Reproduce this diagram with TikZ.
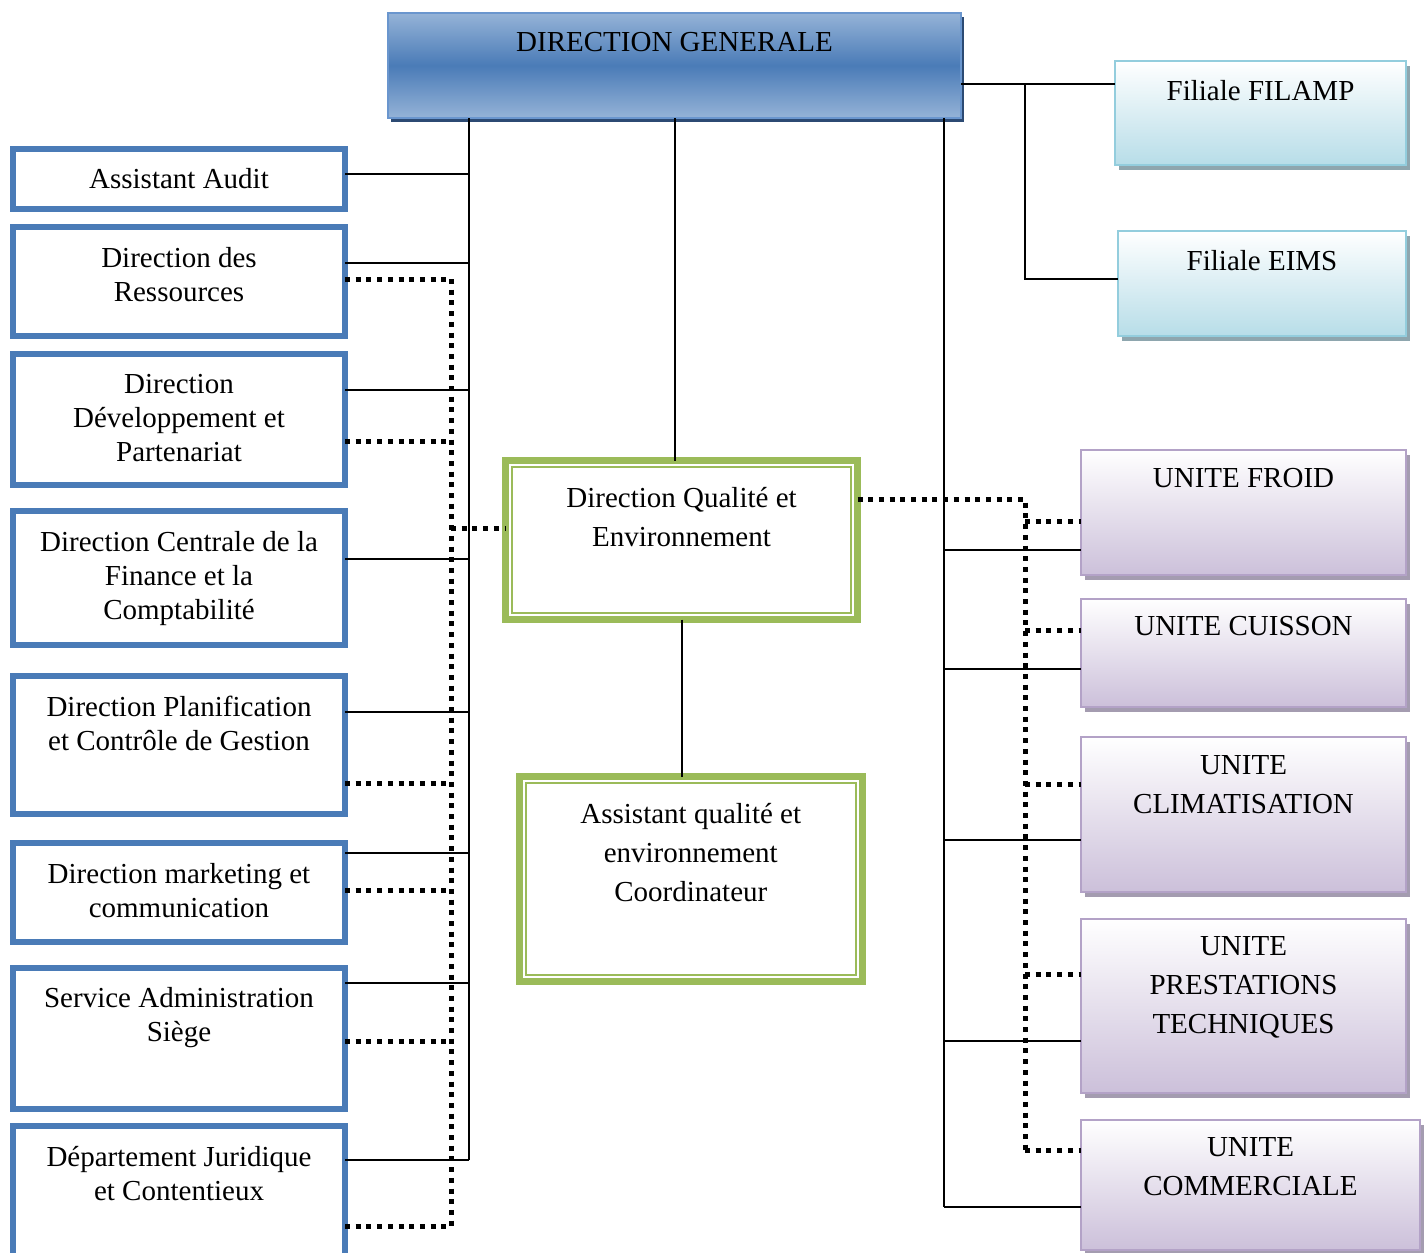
\documentclass[tikz,border=0pt]{standalone}
\usepackage{fontspec}
\setmainfont{Liberation Serif}
\usetikzlibrary{shadows}

\definecolor{dgblue}{HTML}{4A7BB7}
\definecolor{dglight}{HTML}{95B3D7}
\definecolor{dgline}{HTML}{6A96CE}
\definecolor{dgshadow}{HTML}{2C4A73}
\definecolor{filline}{HTML}{93CDDD}
\definecolor{filfill}{HTML}{B7DDE8}
\definecolor{filshadow}{HTML}{8EA6AE}
\definecolor{uline}{HTML}{B3A2C7}
\definecolor{ufill}{HTML}{CCC0DA}
\definecolor{ushadow}{HTML}{A49CB0}
\definecolor{qgreen}{HTML}{9BBB59}

\begin{document}
\begin{tikzpicture}[x=0.5pt, y=-0.5pt,
    every node/.style={inner sep=0pt, outer sep=0pt},
    dgbox/.style={rectangle, draw=dgline, line width=1pt, anchor=north west, top color=dglight, bottom color=dglight, middle color=dgblue, minimum width=286.5pt, minimum height=52.5pt, drop shadow={shadow xshift=1.5pt, shadow yshift=-2pt, fill=dgshadow, opacity=1}},
    filbox/.style={rectangle, draw=filline, line width=1pt, anchor=north west, top color=white, bottom color=filfill, minimum height=52pt, drop shadow={shadow xshift=2pt, shadow yshift=-2.5pt, fill=filshadow, opacity=1}},
    dirbox/.style={rectangle, draw=dgblue, line width=3pt, fill=white, anchor=north west, minimum width=166pt},
    unitbox/.style={rectangle, draw=uline, line width=1pt, anchor=north west, top color=white, bottom color=ufill, minimum width=162.5pt, drop shadow={shadow xshift=2pt, shadow yshift=-2.5pt, fill=ushadow, opacity=1}},
    qbox/.style={rectangle, draw=qgreen, line width=3.5pt, fill=white, anchor=north west},
    qinner/.style={draw=qgreen, line width=1pt},
    dirtxt/.style={anchor=north, align=center, font=\fontsize{14.5}{17}\selectfont},
    boxtxt/.style={anchor=north, align=center, font=\fontsize{14.5}{19.5}\selectfont},
    link/.style={line width=1pt},
    dots/.style={line width=2.5pt, dash pattern=on 2.5pt off 2.85pt}]

    \clip (0,0) rectangle (1427,1252);
    \useasboundingbox (0,0) rectangle (1427,1252);

    % Direction generale et filiales
    \node[dgbox] (dg) at (388,13) {};
    \node[boxtxt] (dg-t) at ([yshift=-9.5pt]dg.north) {DIRECTION GENERALE};
    \node[filbox, minimum width=145.5pt] (filamp) at (1115,61) {};
    \node[boxtxt] (filamp-t) at ([yshift=-9.5pt]filamp.north) {Filiale FILAMP};
    \node[filbox, minimum width=144pt, minimum height=52.5pt] (eims) at (1118,231) {};
    \node[boxtxt] (eims-t) at ([yshift=-9.5pt]eims.north) {Filiale EIMS};

    % Directions (gauche)
    \node[dirbox, minimum height=30.25pt] (audit) at (13,148.5) {};
    \node[dirbox, minimum height=54.5pt] (res) at (13,227) {};
    \node[dirbox, minimum height=65.5pt] (dev) at (13,354) {};
    \node[dirbox, minimum height=67pt] (fin) at (13,511) {};
    \node[dirbox, minimum height=69pt] (plan) at (13,676) {};
    \node[dirbox, minimum height=49.5pt] (mkt) at (13,843) {};
    \node[dirbox, minimum height=70.5pt] (serv) at (13,967.5) {};
    \node[dirbox, minimum height=75pt] (jur) at (13,1126) {};
    \node[dirtxt] (audit-t) at ([yshift=-10pt]audit.north) {Assistant Audit};
    \node[dirtxt] (res-t) at ([yshift=-10pt]res.north) {Direction des\\Ressources};
    \node[dirtxt] (dev-t) at ([yshift=-10pt]dev.north) {Direction\\Développement et\\Partenariat};
    \node[dirtxt] (fin-t) at ([yshift=-10pt]fin.north) {Direction Centrale de la\\Finance et la\\Comptabilité};
    \node[dirtxt] (plan-t) at ([yshift=-10pt]plan.north) {Direction Planification\\et Contrôle de Gestion};
    \node[dirtxt] (mkt-t) at ([yshift=-10pt]mkt.north) {Direction marketing et\\communication};
    \node[dirtxt] (serv-t) at ([yshift=-10pt]serv.north) {Service Administration\\Siège};
    \node[dirtxt] (jur-t) at ([yshift=-10pt]jur.north) {Département Juridique\\et Contentieux};

    % Qualite
    \node[qbox, minimum width=176pt, minimum height=79.5pt] (q1) at (505.5,460.5) {};
    \draw[qinner] ([shift={(6.5,6.5)}]q1.north west) rectangle ([shift={(-6.5,-6.5)}]q1.south east);
    \node[boxtxt] (q1-t) at ([yshift=-13.5pt]q1.north) {Direction Qualité et\\Environnement};
    \node[qbox, minimum width=171.25pt, minimum height=102.5pt] (q2) at (519.5,776.5) {};
    \draw[qinner] ([shift={(6.5,6.5)}]q2.north west) rectangle ([shift={(-6.5,-6.5)}]q2.south east);
    \node[boxtxt] (q2-t) at ([yshift=-13.2pt]q2.north) {Assistant qualité et\\environnement\\Coordinateur};

    % Unites (droite)
    \node[unitbox, minimum height=62.5pt] (froid) at (1081,450) {};
    \node[unitbox, minimum height=54pt] (cuis) at (1081,598.5) {};
    \node[unitbox, minimum height=77.5pt] (clim) at (1081,737) {};
    \node[unitbox, minimum height=87pt] (prest) at (1081,918.5) {};
    \node[unitbox, minimum height=65pt, minimum width=169.5pt] (comm) at (1081,1119.5) {};
    \node[boxtxt] (froid-t) at ([yshift=-9pt]froid.north) {UNITE FROID};
    \node[boxtxt] (cuis-t) at ([yshift=-9pt]cuis.north) {UNITE CUISSON};
    \node[boxtxt] (clim-t) at ([yshift=-9pt]clim.north) {UNITE\\CLIMATISATION};
    \node[boxtxt] (prest-t) at ([yshift=-9pt]prest.north) {UNITE\\PRESTATIONS\\TECHNIQUES};
    \node[boxtxt] (comm-t) at ([yshift=-9pt]comm.north) {UNITE\\COMMERCIALE};

    % Liaisons hierarchiques
    \coordinate (lt) at (469,0);
    \coordinate (rt) at (944,0);
    \coordinate (fk) at (1025,84);
    \draw[link] (dg.east |- fk) -- (filamp.west |- fk);
    \draw[link] (fk) |- (eims.west |- 0,279);
    \draw[link] (dg.south) -- (dg.south |- q1.north);
    \draw[link] (q1.south) -- (q1.south |- q2.north);
    \draw[link] (dg.south -| lt) -- (lt |- 0,1160);
    \foreach \b/\y in {audit/174, res/263, dev/390, fin/559, plan/712, mkt/853, serv/983, jur/1160}
        \draw[link] (\b.east |- 0,\y) -- (lt |- 0,\y);
    \draw[link] (dg.south -| rt) -- (rt |- 0,1207);
    \foreach \b/\y in {froid/550, cuis/669, clim/840, prest/1041, comm/1207}
        \draw[link] (rt |- 0,\y) -- (\b.west |- 0,\y);

    % Liaisons fonctionnelles (pointilles)
    \coordinate (ld) at (451,0);
    \coordinate (rd) at (1025,0);
    \draw[dots] (ld |- 0,279) -- (ld |- 0,1226);
    \foreach \b/\y in {res/279, dev/441, plan/783, mkt/890, serv/1041, jur/1226}
        \draw[dots] (\b.east |- 0,\y) -- (ld |- 0,\y);
    \draw[dots] (ld |- 0,528) -- (q1.west |- 0,528);
    \draw[dots] (q1.east |- 0,499) -| (rd |- 0,1150);
    \foreach \b/\y in {froid/521, cuis/630, clim/784, prest/974, comm/1150}
        \draw[dots] (rd |- 0,\y) -- (\b.west |- 0,\y);

\end{tikzpicture}
\end{document}
